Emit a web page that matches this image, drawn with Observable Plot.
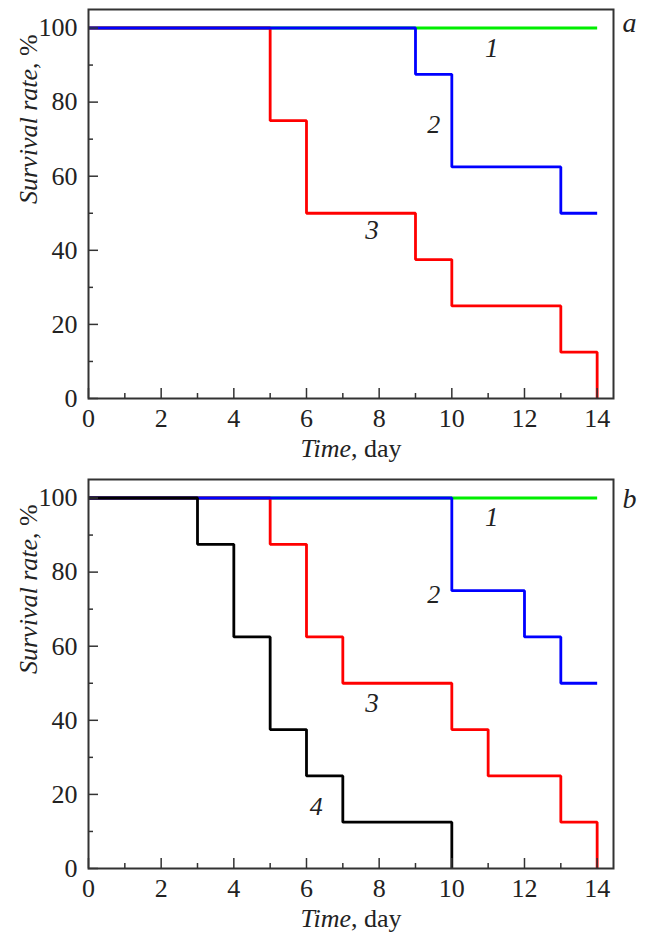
<!DOCTYPE html>
<html>
<head>
<meta charset="utf-8">
<script src="https://cdn.jsdelivr.net/npm/d3@7"></script>
<script src="https://cdn.jsdelivr.net/npm/@observablehq/plot@0.6"></script>
<style>
  html, body { margin: 0; padding: 0; background: #fff; }
  #chart { width: 653px; }
  #chart svg { display: block; }
</style>
</head>
<body>
<div id="chart"></div>
<script>
// ---- Data ----
const xMajorTicks = [0, 2, 4, 6, 8, 10, 12, 14];
const xMinorTicks = [1, 3, 5, 7, 9, 11, 13];
const yMajorTicks = [0, 20, 40, 60, 80, 100];
const yMinorTicks = [10, 30, 50, 70, 90];

// Panel a
const a1Time = [0, 14];
const a1Rate = [100, 100];
const a2Time = [0, 9, 10, 13, 14];
const a2Rate = [100, 87.5, 62.5, 50, 50];
const a3Time = [0, 5, 6, 9, 10, 13, 14];
const a3Rate = [100, 75, 50, 37.5, 25, 12.5, 0];
const aLabelText = ["1", "2", "3"];
const aLabelX = [11.1, 9.5, 7.8];
const aLabelY = [94.5, 74, 45.5];

// Panel b
const b1Time = [0, 14];
const b1Rate = [100, 100];
const b2Time = [0, 10, 12, 13, 14];
const b2Rate = [100, 75, 62.5, 50, 50];
const b3Time = [0, 5, 6, 7, 10, 11, 13, 14];
const b3Rate = [100, 87.5, 62.5, 50, 37.5, 25, 12.5, 0];
const b4Time = [0, 3, 4, 5, 6, 7, 10];
const b4Rate = [100, 87.5, 62.5, 37.5, 25, 12.5, 0];
const bLabelText = ["1", "2", "3", "4"];
const bLabelX = [11.1, 9.5, 7.8, 6.27];
const bLabelY = [94.8, 73.8, 44.5, 16.8];

const seriesColors = {"1": "#00ee00", "2": "#0000ff", "3": "#ff0000", "4": "#000000"};
const drawOrder = ["1", "3", "2", "4"];

function toRows(time, rate) { return time.map((t, i) => ({t, r: rate[i]})); }

function panel({curves, labelText, labelX, labelY, letter, marginTop, marginBottom, letterDy}) {
  const W = 653, H = 467, ml = 88, mr = 40;
  const innerW = W - ml - mr, innerH = H - marginTop - marginBottom;
  const labels = labelText.map((s, i) => ({s, x: labelX[i], y: labelY[i]}));
  const marks = [];
  for (const k of drawOrder) {
    if (!curves[k]) continue;
    marks.push(Plot.line(toRows(curves[k][0], curves[k][1]), {
      x: "t", y: "r", curve: "step-after", stroke: seriesColors[k], strokeWidth: 2.8,
      strokeLinejoin: "miter", strokeLinecap: "butt"
    }));
  }
  marks.push(
    Plot.tickX(xMajorTicks, {x: d => d, stroke: "#333", strokeWidth: 1.5, insetTop: innerH - 10}),
    Plot.tickX(xMinorTicks, {x: d => d, stroke: "#333", strokeWidth: 1.5, insetTop: innerH - 5}),
    Plot.tickY(yMajorTicks, {y: d => d, stroke: "#333", strokeWidth: 1.5, insetRight: innerW - 10}),
    Plot.tickY(yMinorTicks, {y: d => d, stroke: "#333", strokeWidth: 1.5, insetRight: innerW - 5}),
    Plot.frame({stroke: "#333", strokeWidth: 2}),
    Plot.axisX({ticks: xMajorTicks, tickSize: 0, tickPadding: 10, label: null, fill: "#222"}),
    Plot.axisY({ticks: yMajorTicks, tickSize: 0, tickPadding: 11, label: null, fill: "#222"}),
    Plot.text(labels, {x: "x", y: "y", text: "s", fontStyle: "italic", fill: "#222", lineAnchor: "middle"}),
    Plot.text([letter], {frameAnchor: "top-right", text: d => d, dx: 23, dy: letterDy, fontStyle: "italic", fill: "#222", lineAnchor: "middle"}),
    Plot.text(["Time, day"], {frameAnchor: "bottom", text: d => d, dy: 50, fill: "#222", lineAnchor: "middle"}),
    Plot.text(["Survival rate, %"], {frameAnchor: "left", text: d => d, rotate: -90, dx: -60, fill: "#222", lineAnchor: "middle"})
  );
  const svg = Plot.plot({
    width: W, height: H,
    marginLeft: ml, marginRight: mr, marginTop, marginBottom,
    style: {fontFamily: "'Liberation Serif', serif", fontSize: "26px", color: "#222", background: "#fff"},
    x: {domain: [0, 14.45]},
    y: {domain: [0, 105]},
    marks
  });
  const tickTexts = new Set([...xMajorTicks, ...yMajorTicks].map(String));
  d3.select(svg).selectAll("text").each(function() {
    const t = this.textContent;
    this.style.fontFamily = "'Liberation Serif', serif";
    if (tickTexts.has(t)) { this.style.fontSize = "26px"; return; }
    if (t === letter) { this.style.fontSize = "28px"; return; }
    if (labelText.includes(t)) { this.style.fontSize = "27px"; return; }
    let parts = null;
    if (t === "Time, day") parts = ["Time", ", day"];
    else if (t === "Survival rate, %") parts = ["Survival rate", ", %"];
    if (!parts) return;
    this.style.fontSize = "26px";
    const s = d3.select(this);
    s.text(null);
    s.append("tspan").attr("font-style", "italic").text(parts[0]);
    s.append("tspan").text(parts[1]);
  });
  return svg;
}

const chart = document.getElementById("chart");
chart.appendChild(panel({
  curves: {"1": [a1Time, a1Rate], "2": [a2Time, a2Rate], "3": [a3Time, a3Rate]},
  labelText: aLabelText, labelX: aLabelX, labelY: aLabelY,
  letter: "a", marginTop: 9, marginBottom: 69, letterDy: 14
}));
chart.appendChild(panel({
  curves: {"1": [b1Time, b1Rate], "2": [b2Time, b2Rate], "3": [b3Time, b3Rate], "4": [b4Time, b4Rate]},
  labelText: bLabelText, labelX: bLabelX, labelY: bLabelY,
  letter: "b", marginTop: 12, marginBottom: 66, letterDy: 20
}));
</script>
</body>
</html>
